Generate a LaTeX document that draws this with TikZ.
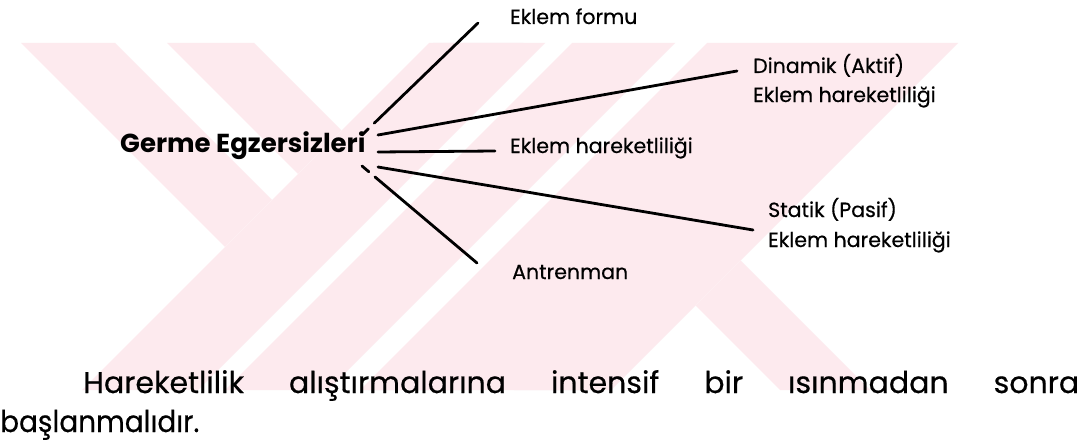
\documentclass[tikz,border=0pt]{standalone}
\usepackage{fontspec}
\setmainfont{Poppins}
\newfontfamily\lblfont{Poppins}[FakeBold=0.5]
\definecolor{wmpink}{RGB}{253,234,238}
\begin{document}
\begin{tikzpicture}[x=1pt,y=-1pt,
  lbl/.style={anchor=base west,inner sep=0pt,font=\lblfont\fontsize{20.5}{24}\selectfont},
  ttl/.style={anchor=base west,inner sep=0pt,font=\fontsize{26}{30}\selectfont\bfseries},
  para/.style={anchor=base west,inner sep=0pt,font=\lblfont\fontsize{30}{36}\selectfont},
  conn/.style={line width=2.8pt,line cap=round},
  wm/.style={fill=wmpink,draw=none}]
\useasboundingbox (0,0) rectangle (1091,444);
\fill[white] (0,0) rectangle (1091,444);
% ---- watermark ----
\begin{scope}
\clip (0,43) rectangle (1091,390);
% back layer: "\" bands, x - y = c
\foreach \ca/\cb in {-22/72,124/211,390/480}{
  \fill[wm] (43+\ca,43) -- (43+\cb,43) -- (390+\cb,390) -- (390+\ca,390) -- cycle;}
% front layer: "/" bands, x + y = d, region 472..1001 occludes
\fill[white] (472-43,43) -- (1001-43,43) -- (1001-390,390) -- (472-390,390) -- cycle;
\foreach \da/\db in {472/588,615/718,750/1001}{
  \fill[wm] (\da-43,43) -- (\db-43,43) -- (\db-390,390) -- (\da-390,390) -- cycle;}
\end{scope}
% ---- texts ----
\node[ttl] (germe) at (120,152) {Germe Egzersizleri};
\node[lbl] (formu) at (510,24) {Eklem formu};
\node[lbl] (dinamik) at (753,73) {Dinamik (Aktif)};
\node[lbl] (dinek) at (753,102) {Eklem hareketliliği};
\node[lbl] (mid) at (510,153) {Eklem hareketliliği};
\node[lbl] (statik) at (768,217) {Statik (Pasif)};
\node[lbl] (statek) at (768,247) {Eklem hareketliliği};
\node[lbl] (antren) at (512,279) {Antrenman};
\node[para] (par1) at (83,393) {\hbox to 996pt{Hareketlilik\hfill alıştırmalarına\hfill intensif\hfill bir\hfill ısınmadan\hfill sonra}};
\node[para] (par2) at (0,432) {\scalebox{0.93}[1]{başlanmalıdır.}};
% ---- connectors ----
\coordinate (sA) at (362,135); \coordinate (eA) at (478,23);
\coordinate (sB) at (378,135); \coordinate (eB) at (737,71);
\coordinate (sC) at (378,152); \coordinate (eC) at (495,151);
\coordinate (sD) at (378,167); \coordinate (eD) at (753,230);
\coordinate (sE) at (362,166); \coordinate (eE) at (477,263);
\draw[conn,dash pattern=on 9pt off 8pt on 300pt] (sA) -- (eA);
\draw[conn] (sB) -- (eB);
\draw[conn] (sC) -- (eC);
\draw[conn] (sD) -- (eD);
\draw[conn,dash pattern=on 9pt off 8pt on 300pt] (sE) -- (eE);
\end{tikzpicture}
\end{document}
